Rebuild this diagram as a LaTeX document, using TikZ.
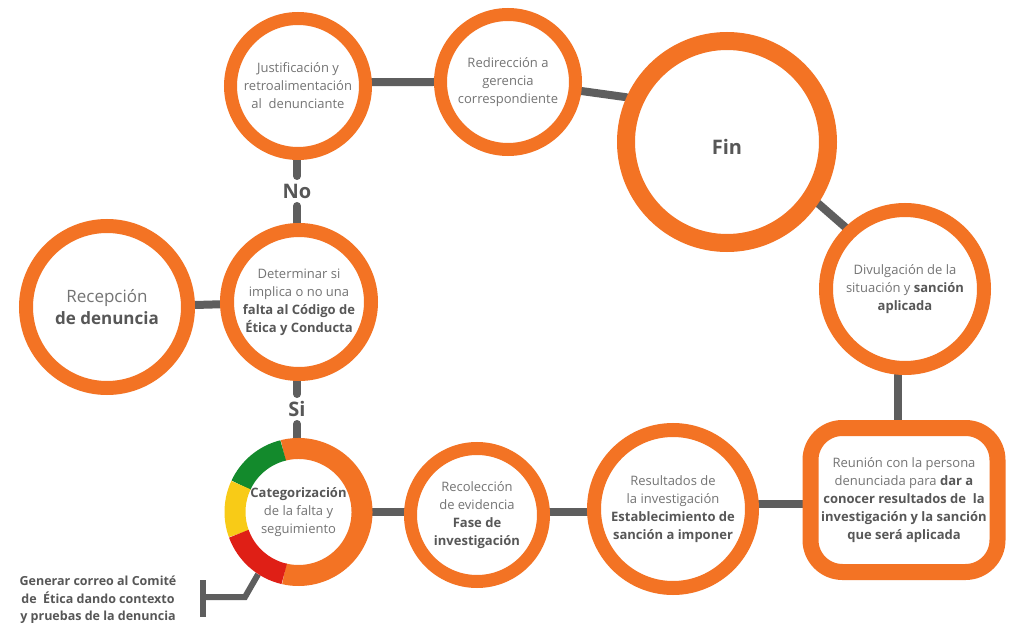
\documentclass[tikz,border=0pt]{standalone}
\usepackage{fontspec}
\setmainfont{Open Sans}
\usetikzlibrary{backgrounds}
\definecolor{orng}{HTML}{F37324}
\definecolor{cgray}{HTML}{5E5E5E}
\definecolor{tgray}{HTML}{747474}
\definecolor{bgray}{HTML}{575757}
\definecolor{cgreen}{HTML}{138A2C}
\definecolor{cyellow}{HTML}{F8CB17}
\definecolor{cred}{HTML}{DF1F16}
\newcommand{\B}[1]{{\bfseries\color{bgray}#1}}
\begin{document}
\begin{tikzpicture}[x=1pt,y=-1pt,
  ring/.style={circle, draw=orng, fill=white, inner sep=0pt, align=center, text=tgray,
    font=\fontsize{13}{18}\selectfont},
  conn/.style={draw=cgray, line width=8, line cap=round},
  tconn/.style={draw=cgray, line width=6},
  lbl/.style={font=\fontsize{20}{24}\selectfont\bfseries, text=bgray, inner sep=0pt,
    outer sep=0pt, minimum height=30},
  seg/.style={line width=21}]
\useasboundingbox (0,0) rectangle (1013,623);

\node[ring, line width=14, minimum size=162, font=\fontsize{17}{22}\selectfont] (rec) at (107,307) {Recepción\\\B{de denuncia}};
\node[ring, line width=14, minimum size=144] (det) at (299,302) {Determinar si\\implica o no una\\\B{falta al Código de}\\\B{Ética y Conducta}};
\node[ring, line width=13, minimum size=135] (jus) at (298,86) {Justificación y\\retroalimentación\\al~ denunciante};
\node[ring, line width=13, minimum size=135] (red) at (508,82) {Redirección a\\gerencia\\correspondiente};
\node[ring, line width=18, minimum size=202,
  label={[yshift=-5pt, font=\fontsize{20}{24}\selectfont, text=bgray]center:\B{Fin}}] (fin) at (727,142) {};
\node[ring, line width=14, minimum size=158] (div) at (905,289) {Divulgación de la\\situación y \B{sanción}\\\B{aplicada}};
\node[ring, rectangle, rounded corners=32, line width=16, minimum width=187, minimum height=144] (reu) at (904,500) {Reunión con la persona\\denunciada para \B{dar a}\\\B{conocer resultados de~ la}\\\B{investigación y la sanción}\\\B{que será aplicada}};
\node[ring, line width=14, minimum size=158] (res) at (673,509) {Resultados de\\la investigación\\\B{Establecimiento de}\\\B{sanción a imponer}};
\node[ring, line width=13, minimum size=133] (recol) at (477,515) {Recolección\\de evidencia\\\B{Fase de}\\\B{investigación}};
\node[circle, minimum size=148, inner sep=0pt, align=center, text=tgray, font=\fontsize{13}{18}\selectfont] (cat) at (298.5,512) {\B{Categorización}\\de la falta y\\seguimiento};

\draw[seg, orng] ([shift={(-104:63.5)}]cat.center) arc[start angle=-104, end angle=103, radius=63.5];
\draw[seg, cgreen] ([shift={(-155:63.5)}]cat.center) arc[start angle=-155, end angle=-104, radius=63.5];
\draw[seg, cyellow] ([shift={(-200:63.5)}]cat.center) arc[start angle=-200, end angle=-155, radius=63.5];
\draw[seg, cred] ([shift={(-257:63.5)}]cat.center) arc[start angle=-257, end angle=-200, radius=63.5];

\node[lbl] (no) at (297,191) {No};
\node[lbl] (si) at (297,409) {Si};

\node[font=\fontsize{12.5}{17.5}\selectfont\bfseries, text=bgray, align=center, inner sep=0pt] (gen) at (98,600) {Generar correo al Comité\\de~ Ética dando contexto\\y pruebas de la denuncia};
\coordinate (k1) at (245,597);
\coordinate (k2) at (203,597);

\begin{scope}[on background layer]
\fill[white] (0,0) rectangle (1013,623);
\draw[conn] ([yshift=2]rec.east) -- (det);
\draw[conn] (no) -- (no |- det.north);
\draw[conn] (no) -- (no |- jus.south);
\draw[conn] (jus.3) -- (red.west);
\draw[conn] (red.-7) -- (fin.156);
\draw[conn] (fin.-34) -- (div.134);
\draw[conn] ([xshift=-7]div.south) -- ([xshift=-6]reu.north);
\draw[conn] ([yshift=-4]reu.west) -- ([yshift=5]res.east);
\draw[conn] ([yshift=-3]res.west) -- ([yshift=3]recol.east);
\draw[conn] ([yshift=3]recol.west) -- (cat.east);
\draw[conn] (si) -- (si |- det.south);
\draw[conn] (si) -- (si |- cat.north);
\draw[tconn] (cat.237) -- (k1) -- (k2);
\draw[tconn] ([yshift=17]k2) -- ([yshift=-20]k2);
\end{scope}
\end{tikzpicture}
\end{document}
